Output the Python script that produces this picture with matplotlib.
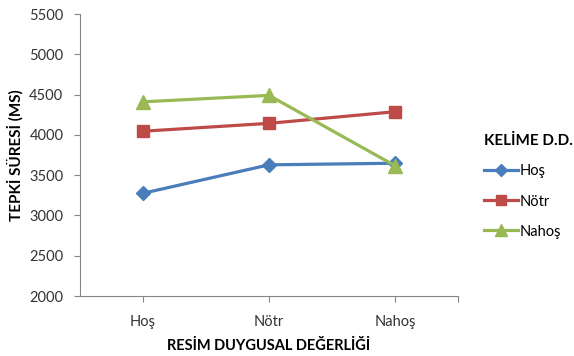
import matplotlib.pyplot as plt
import numpy as np

categories = ['Hoş', 'Nötr', 'Nahoş']
hos = [3275, 3628, 3648]
notr = [4045, 4143, 4287]
nahos = [4410, 4490, 3617]
series_names = ['Hoş', 'Nötr', 'Nahoş']

plt.rcParams['font.family'] = ['Lato', 'DejaVu Sans']

fig = plt.figure(figsize=(5.74, 3.56), dpi=100)
ax = fig.add_axes([80 / 574, 60 / 356, 378 / 574, 282 / 356])

x = np.arange(len(categories)) + 0.5
ax.plot(x, hos, color='#4A7EBB', lw=2.3, marker='D', ms=7, label=series_names[0])
ax.plot(x, notr, color='#BE4B48', lw=2.3, marker='s', ms=9, label=series_names[1])
ax.plot(x, nahos, color='#98B954', lw=2.3, marker='^', ms=10, label=series_names[2])

ax.set_xlim(0, 3)
ax.set_ylim(2000, 5500)
ax.set_yticks(np.arange(2000, 5501, 500))
ax.set_xticks(list(x) + [3])
ax.set_xticklabels(categories + [''])

for s in ['top', 'right']:
    ax.spines[s].set_visible(False)
for s in ['left', 'bottom']:
    ax.spines[s].set_color('#868686')
    ax.spines[s].set_linewidth(0.8)
ax.tick_params(axis='both', colors='#868686', labelcolor='#333333', labelsize=10.5, length=4)
ax.tick_params(axis='x', pad=10)
ax.tick_params(axis='y', direction='out', pad=8)

ax.set_ylabel('TEPKİ SÜRESİ (MS)', fontsize=11, fontweight='bold', labelpad=4)
ax.set_xlabel('RESİM DUYGUSAL DEĞERLİĞİ', fontsize=10.5, fontweight='bold', labelpad=7)

leg = ax.legend(title='KELİME D.D.', loc='upper left', bbox_to_anchor=(1.035, 0.62),
                frameon=False, fontsize=10.5, handlelength=2.3, handletextpad=0.15,
                labelspacing=1.1, title_fontproperties={'weight': 'bold', 'size': 11})
leg._legend_box.align = 'left'
for h, ms in zip(leg.legend_handles, [6, 7, 8]):
    h.set_markersize(ms)

fig.savefig('out.png', dpi=100)
